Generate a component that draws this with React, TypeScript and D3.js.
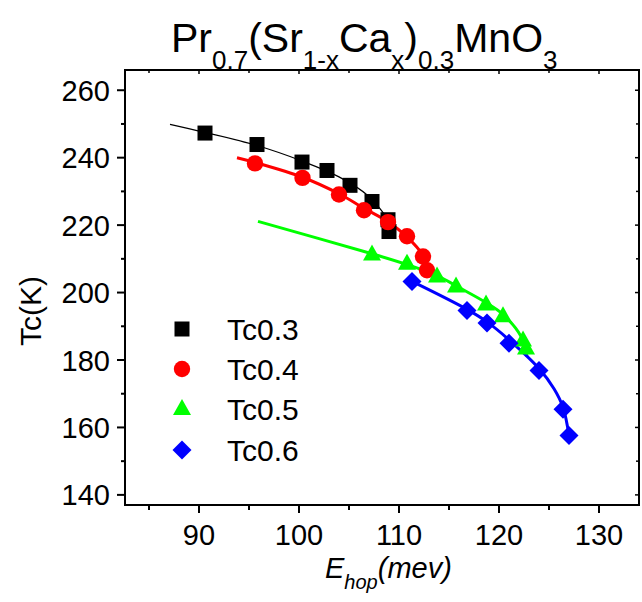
import React from "react";
import * as d3 from "d3";

// ---- data ----
const tc03E = [90.6, 95.8, 100.3, 102.8, 105.1, 107.3, 108.9, 109.0];
const tc03T = [247.3, 243.9, 238.7, 236.2, 231.8, 227.0, 221.6, 218.1];
const tc04E = [95.6, 100.35, 104.0, 106.5, 108.9, 110.8, 112.4, 112.8];
const tc04T = [238.3, 234.0, 229.1, 224.4, 220.9, 216.7, 210.7, 206.6];
const tc05E = [107.3, 110.8, 113.8, 115.7, 118.7, 120.4, 122.4, 122.7];
const tc05T = [211.3, 208.6, 204.8, 201.8, 196.5, 193.0, 185.8, 183.4];
const tc06E = [111.3, 116.8, 118.8, 121.0, 124.0, 126.4, 127.0];
const tc06T = [203.3, 194.7, 191.0, 185.0, 176.9, 165.4, 157.6];

// fitted guide curves
const fit03E = [87.1, 90.6, 95.8, 100.3, 104.0, 107.0, 108.7];
const fit03T = [249.9, 247.5, 243.6, 239.0, 234.3, 228.5, 222.5];
const fit04E = [93.8, 95.6, 100.35, 104.0, 106.5, 108.9, 110.8, 112.4, 112.9];
const fit04T = [240.0, 238.6, 234.2, 229.3, 225.0, 221.0, 216.5, 211.0, 207.0];
const fit05E = [95.9, 107.3, 110.8, 113.8, 116.0, 118.7, 120.4, 122.2, 122.8];
const fit05T = [221.1, 211.5, 208.3, 205.0, 201.5, 197.0, 193.5, 187.0, 181.0];
const fit06E = [111.3, 116.8, 118.8, 121.0, 124.0, 125.5, 126.4, 127.0];
const fit06T = [203.3, 195.0, 191.3, 186.0, 177.5, 171.5, 166.0, 157.6];

const legendLabels = ["Tc0.3", "Tc0.4", "Tc0.5", "Tc0.6"];
const seriesColors = ["#000000", "#ff0000", "#00ff00", "#0000ff"];
const xMajor = [90, 100, 110, 120, 130];
const xMinor = [85, 95, 105, 115, 125];
const yMajor = [140, 160, 180, 200, 220, 240, 260];
const yMinor = [150, 170, 190, 210, 230, 250];

const W = 642, H = 602;
const L = 125, R = 639, T = 70, B = 505;
const FONT = "'Liberation Sans', Arial, Helvetica, sans-serif";

const x = d3.scaleLinear().domain([82.6, 134]).range([L, R]);
const y = d3.scaleLinear().domain([137, 266]).range([B, T]);

type Shape = "square" | "circle" | "triangle" | "diamond";
const shapes: Shape[] = ["square", "circle", "triangle", "diamond"];

function Marker({ shape, cx, cy, color }: { shape: Shape; cx: number; cy: number; color: string }) {
  if (shape === "square") return <rect x={cx - 7.5} y={cy - 7.5} width={15} height={15} fill={color} />;
  if (shape === "circle") return <circle cx={cx} cy={cy} r={8.2} fill={color} />;
  if (shape === "triangle") {
    const h = 16, w = 18;
    return <path d={`M${cx},${cy - h * 0.62}L${cx + w / 2},${cy + h * 0.38}L${cx - w / 2},${cy + h * 0.38}Z`} fill={color} />;
  }
  const r = 9.5;
  return <path d={`M${cx},${cy - r}L${cx + r},${cy}L${cx},${cy + r}L${cx - r},${cy}Z`} fill={color} />;
}

const pts = (xs: number[], ys: number[]) => xs.map((v, i) => [v, ys[i]] as [number, number]);

export default function App() {
  const line = d3
    .line<[number, number]>()
    .x((d) => x(d[0]))
    .y((d) => y(d[1]))
    .curve(d3.curveCatmullRom.alpha(0.5));

  const fits = [
    { p: pts(fit03E, fit03T), w: 1.2 },
    { p: pts(fit04E, fit04T), w: 3 },
    { p: pts(fit05E, fit05T), w: 3 },
    { p: pts(fit06E, fit06T), w: 3 },
  ];
  const series = [pts(tc03E, tc03T), pts(tc04E, tc04T), pts(tc05E, tc05T), pts(tc06E, tc06T)];
  const legendY = [329, 369, 409, 450];

  return (
    <svg width={W} height={H} style={{ position: "absolute", left: 0, top: 0, background: "#fff" }} fontFamily={FONT}>
      <rect width={W} height={H} fill="#fff" />
      {/* title */}
      <text x={171} y={52} fontSize={41} fill="#000">
        Pr<tspan fontSize={26} dy={17}>0.7</tspan>
        <tspan dy={-17}>(Sr</tspan>
        <tspan fontSize={26} dy={17}>1-x</tspan>
        <tspan dy={-17}>Ca</tspan>
        <tspan fontSize={26} dy={17}>x</tspan>
        <tspan dy={-17}>)</tspan>
        <tspan fontSize={26} dy={17}>0.3</tspan>
        <tspan dy={-17}>MnO</tspan>
        <tspan fontSize={26} dy={17}>3</tspan>
      </text>

      {/* fit curves */}
      {fits.map((f, i) => (
        <path key={i} d={line(f.p) || ""} fill="none" stroke={seriesColors[i]} strokeWidth={f.w} />
      ))}
      {/* markers */}
      {series.map((s, i) =>
        s.map((d, j) => <Marker key={`${i}-${j}`} shape={shapes[i]} cx={x(d[0])} cy={y(d[1])} color={seriesColors[i]} />)
      )}

      {/* frame */}
      <rect x={L} y={T} width={R - L} height={B - T} fill="none" stroke="#000" strokeWidth={2} />
      {/* bottom ticks */}
      {xMajor.map((v) => (
        <g key={`xm${v}`}>
          <line x1={x(v)} x2={x(v)} y1={B} y2={B + 8} stroke="#000" strokeWidth={2} />
          <line x1={x(v)} x2={x(v)} y1={T} y2={T + 4} stroke="#000" strokeWidth={1.5} />
          <text x={x(v)} y={545} fontSize={29} textAnchor="middle" fill="#000">
            {v}
          </text>
        </g>
      ))}
      {xMinor.map((v) => (
        <g key={`xn${v}`}>
          <line x1={x(v)} x2={x(v)} y1={B} y2={B + 5} stroke="#000" strokeWidth={2} />
          <line x1={x(v)} x2={x(v)} y1={T} y2={T + 3} stroke="#000" strokeWidth={1.5} />
        </g>
      ))}
      {/* left ticks */}
      {yMajor.map((v) => (
        <g key={`ym${v}`}>
          <line x1={L - 8} x2={L} y1={y(v)} y2={y(v)} stroke="#000" strokeWidth={2} />
          <line x1={R - 4} x2={R} y1={y(v)} y2={y(v)} stroke="#000" strokeWidth={1.5} />
          <text x={110} y={y(v) + 10.5} fontSize={29} textAnchor="end" fill="#000">
            {v}
          </text>
        </g>
      ))}
      {yMinor.map((v) => (
        <g key={`yn${v}`}>
          <line x1={L - 4} x2={L} y1={y(v)} y2={y(v)} stroke="#000" strokeWidth={2} />
          <line x1={R - 3} x2={R} y1={y(v)} y2={y(v)} stroke="#000" strokeWidth={1.5} />
        </g>
      ))}

      {/* axis titles */}
      <text x={325} y={578} fontSize={29} fontStyle="italic" fill="#000">
        E<tspan fontSize={20} dy={11}>hop</tspan>
        <tspan dy={-11}>(mev)</tspan>
      </text>
      <text transform={`translate(41,311) rotate(-90)`} fontSize={30} textAnchor="middle" fill="#000">
        Tc(K)
      </text>

      {/* legend */}
      {legendLabels.map((lab, i) => (
        <g key={lab}>
          <Marker shape={shapes[i]} cx={182} cy={legendY[i]} color={seriesColors[i]} />
          <text x={227} y={legendY[i] + 11} fontSize={30} fill="#000">
            {lab}
          </text>
        </g>
      ))}
    </svg>
  );
}
